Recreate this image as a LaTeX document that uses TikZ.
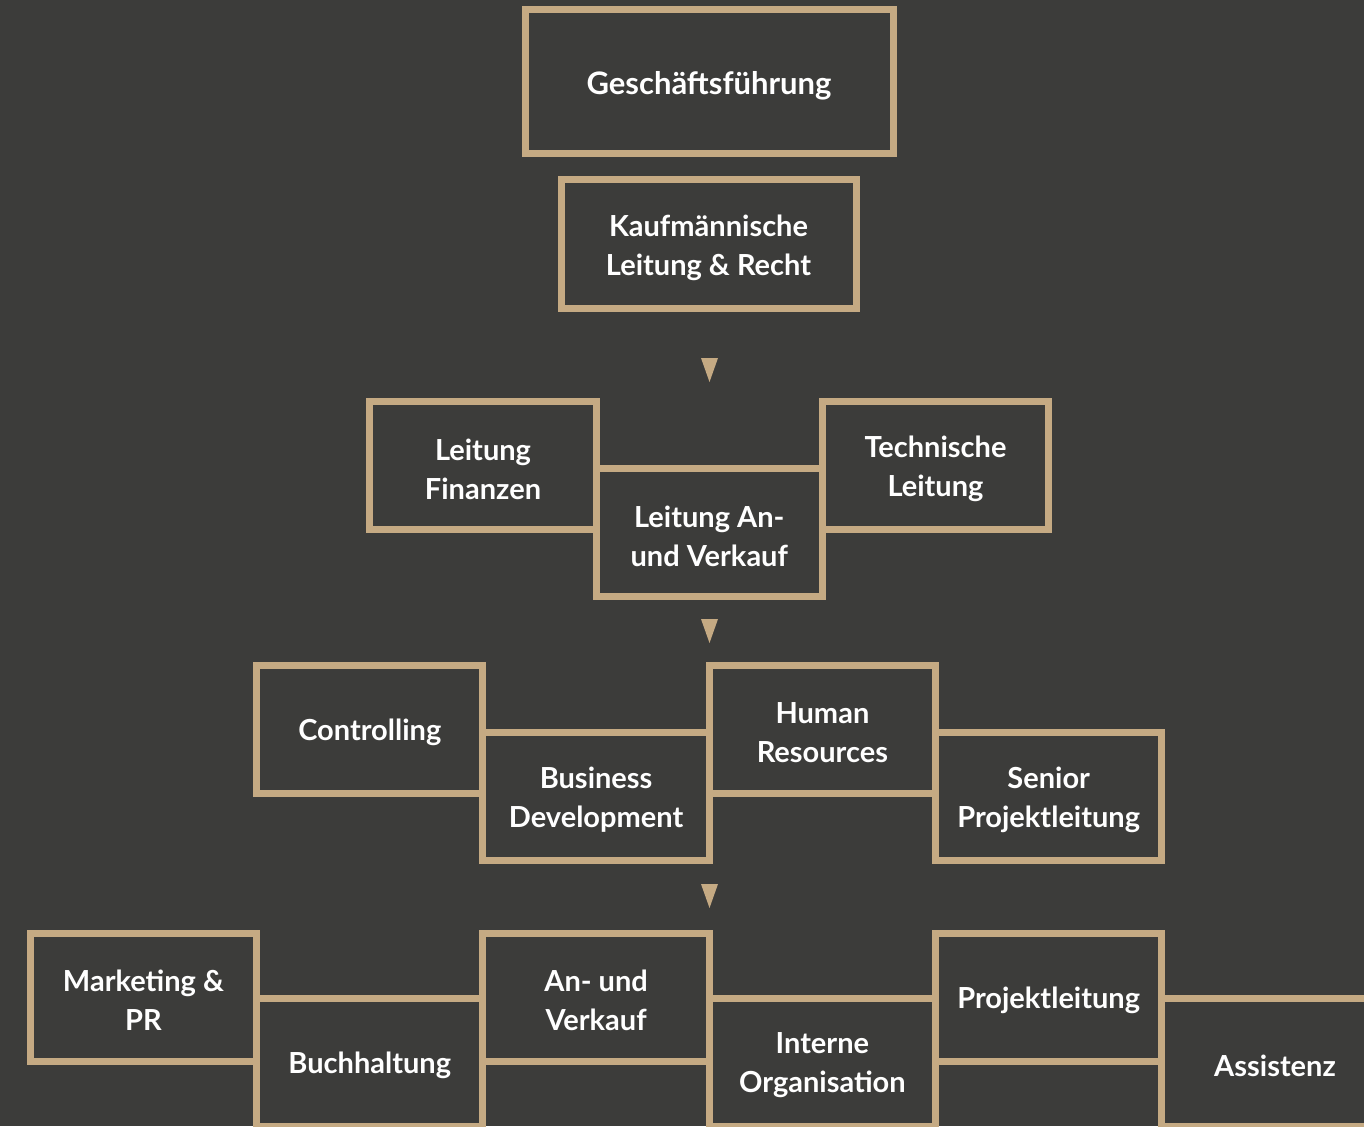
\documentclass[tikz,border=0pt]{standalone}
\usepackage{fontspec}
\setmainfont{Lato}[UprightFont=* Bold]
\definecolor{bgc}{RGB}{60,60,58}
\definecolor{gold}{RGB}{197,170,131}
\begin{document}
\begin{tikzpicture}[x=1pt,y=-1pt,
  box/.style={draw=gold, line width=7pt, inner sep=0pt, outer sep=0pt,
    minimum width=226.3pt, minimum height=128pt},
  txt/.style={text=white, align=center, inner sep=0pt, yshift=-3.5pt,
    font=\fontsize{29}{39}\selectfont},
  tri/.style={fill=gold}]
\fill[bgc] (0,0) rectangle (1364,1126);
\useasboundingbox (0,0) rectangle (1364,1126);
\clip (0,0) rectangle (1364,1126);
% top
\node[box, minimum width=368pt, minimum height=144pt, label={[txt,font=\fontsize{31}{39}\selectfont]center:{Gesch\"aftsf\"uhrung}}] (gf) at (709,82) {};
\node[box, minimum width=295pt, minimum height=128pt, label={[txt]center:{Kaufm\"annische\\Leitung \& Recht}}] (kl) at (708.5,244) {};
% row 2
\node[box, label={[txt]center:{Leitung\\Finanzen}}] (lf) at (483,465.5) {};
\node[box, label={[txt]center:{Technische\\Leitung}}] (tl) at (935.5,465.5) {};
\node[box, label={[txt]center:{Leitung An-\\und Verkauf}}] (lav) at (709.25,532.5) {};
% row 3
\node[box, label={[txt]center:{Controlling}}] (co) at (369.8,729) {};
\node[box, label={[txt]center:{Human\\Resources}}] (hr) at (822.4,729) {};
\node[box, label={[txt]center:{Business\\Development}}] (bd) at (596.1,796.5) {};
\node[box, label={[txt]center:{Senior\\Projektleitung}}] (sp) at (1048.7,796.5) {};
% row 4
\node[box, label={[txt]center:{Marketing \&\\PR}}] (mp) at (143.5,997) {};
\node[box, label={[txt]center:{An- und\\Verkauf}}] (av) at (596.1,997) {};
\node[box, label={[txt]center:{Projektleitung}}] (pl) at (1048.7,997) {};
\node[box, label={[txt]center:{Buchhaltung}}] (bh) at (369.8,1062) {};
\node[box, label={[txt]center:{Interne\\Organisation}}] (io) at (822.4,1062) {};
\node[box, label={[txt]center:{Assistenz}}] (as) at (1275,1062) {};
% arrows
\coordinate (a1) at (709.5,358);
\coordinate (a2) at (709.5,619);
\coordinate (a3) at (709.5,884);
\foreach \a in {a1,a2,a3}{
  \fill[tri] ([xshift=-8.5pt]\a) -- ([xshift=8.5pt]\a) -- ([yshift=-24pt]\a) -- cycle;
}
\end{tikzpicture}
\end{document}
